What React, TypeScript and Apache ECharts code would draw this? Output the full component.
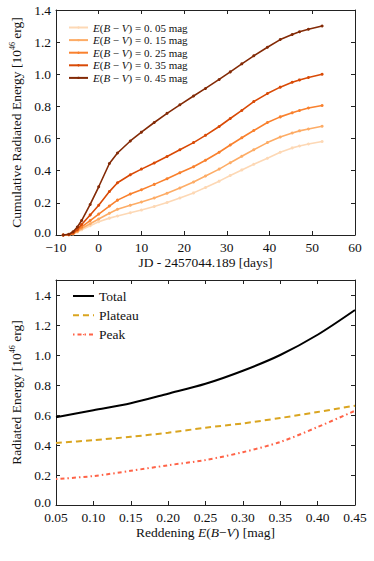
import React, { useEffect, useRef } from "react";
import * as echarts from "echarts";

// ---- Top panel data: cumulative radiated energy vs JD ----
const days = [-8.3, -7, -6, -5, -4, -2, 0, 2.5, 4.4, 7.4, 10, 13, 16, 19, 22.2, 25, 28.2, 30.8, 33.5, 36.3, 39.5, 42.5, 45.3, 47, 49.1, 52.3];
const reddenings = ["0.05", "0.15", "0.25", "0.35", "0.45"];
const cum005 = [0, 0.001, 0.006, 0.018, 0.032, 0.058, 0.082, 0.105, 0.118, 0.138, 0.155, 0.177, 0.202, 0.23, 0.262, 0.295, 0.335, 0.37, 0.405, 0.44, 0.478, 0.515, 0.542, 0.554, 0.566, 0.582];
const cum015 = [0, 0.002, 0.008, 0.022, 0.04, 0.07, 0.1, 0.135, 0.16, 0.185, 0.205, 0.23, 0.26, 0.292, 0.33, 0.367, 0.41, 0.45, 0.49, 0.53, 0.575, 0.61, 0.635, 0.648, 0.66, 0.677];
const cum025 = [0, 0.002, 0.01, 0.028, 0.05, 0.09, 0.13, 0.18, 0.217, 0.255, 0.282, 0.315, 0.35, 0.387, 0.425, 0.465, 0.515, 0.56, 0.605, 0.65, 0.7, 0.735, 0.76, 0.775, 0.79, 0.806];
const cum035 = [0, 0.003, 0.012, 0.035, 0.065, 0.125, 0.185, 0.27, 0.325, 0.375, 0.41, 0.448, 0.488, 0.53, 0.575, 0.62, 0.675, 0.725, 0.775, 0.83, 0.88, 0.92, 0.95, 0.965, 0.98, 1.0];
const cum045 = [0, 0.005, 0.02, 0.05, 0.09, 0.19, 0.3, 0.445, 0.51, 0.585, 0.64, 0.7, 0.757, 0.81, 0.865, 0.912, 0.968, 1.015, 1.065, 1.115, 1.168, 1.216, 1.248, 1.265, 1.28, 1.3];
const cumSeries = [cum005, cum015, cum025, cum035, cum045];
const cumColors = ["#fdd8b5", "#fdac66", "#f9812e", "#d94a06", "#832a06"];

// ---- Bottom panel data: radiated energy vs reddening ----
const ebv = [0.05, 0.1, 0.15, 0.2, 0.25, 0.3, 0.35, 0.4, 0.45];
const total = [0.585, 0.632, 0.678, 0.742, 0.808, 0.895, 1.0, 1.135, 1.3];
const plateau = [0.413, 0.432, 0.455, 0.482, 0.515, 0.544, 0.58, 0.62, 0.662];
const peak = [0.173, 0.193, 0.228, 0.265, 0.3, 0.352, 0.42, 0.52, 0.628];

const topXTicks = { min: -10, max: 60, interval: 10 };
const topYTicks = { min: 0, max: 1.4, interval: 0.2 };
const botXTicks = { min: 0.05, max: 0.45, interval: 0.05 };
const botYTicks = { min: 0, max: 1.5, interval: 0.2 };

const FONT = "Liberation Serif";
const AX = "#222";

const labelRich = {
  o: { fontFamily: FONT, fontSize: 13.5, color: "#111", padding: [0, 0, 6, 0] },
};

function mainAxis(grid: number, pos: string, ticks: any, fmt: (v: number) => string, margin: number, extra: any = {}) {
  return {
    type: "value",
    gridIndex: grid,
    position: pos,
    ...ticks,
    splitLine: { show: false },
    axisLine: { show: true, onZero: false, lineStyle: { color: AX, width: 1 } },
    axisTick: { show: true, inside: true, length: 4, lineStyle: { color: AX } },
    axisLabel: { show: true, formatter: fmt, fontFamily: FONT, fontSize: 13.5, color: "#111", margin, rich: labelRich },
    ...extra,
  };
}
function mirrorAxis(grid: number, pos: string, ticks: any) {
  return {
    type: "value",
    gridIndex: grid,
    position: pos,
    ...ticks,
    splitLine: { show: false },
    axisLine: { show: true, onZero: false, lineStyle: { color: AX, width: 1 } },
    axisTick: { show: true, inside: true, length: 4, lineStyle: { color: AX } },
    axisLabel: { show: false },
  };
}

const minus = (s: string) => s.replace("-", "\u2212");
const yFmt = (top: number) => (v: number) =>
  v > top + 0.05 ? "" : v === 0 ? "{o|0.0}" : v.toFixed(1);

export default function App() {
  const ref = useRef<HTMLDivElement>(null);
  useEffect(() => {
    if (!ref.current) return;
    const chart = echarts.init(ref.current, null, { renderer: "svg" });
    const nameRich = {
      a: { fontFamily: FONT, fontSize: 13.5, color: "#111" },
      s: { fontFamily: FONT, fontSize: 8, color: "#111", verticalAlign: "top", lineHeight: 16 },
      i: { fontFamily: FONT, fontSize: 13.5, fontStyle: "italic", color: "#111" },
    };
    const topSeries = reddenings.map((r, k) => ({
      name: r,
      type: "line",
      xAxisIndex: 0,
      yAxisIndex: 0,
      data: days.map((d, j) => [d, cumSeries[k][j]]),
      symbol: "circle",
      symbolSize: 3,
      showSymbol: true,
      lineStyle: { color: cumColors[k], width: 1.6 },
      itemStyle: { color: cumColors[k] },
      z: 2 + k,
    }));
    const botSeries = [
      { name: "Total", data: total, color: "#000", type: "solid", width: 2 },
      { name: "Plateau", data: plateau, color: "#daa520", type: [6, 4], width: 2 },
      { name: "Peak", data: peak, color: "#ff6347", type: [1.5, 3, 4, 3], width: 2 },
    ].map((s) => ({
      name: s.name,
      type: "line",
      xAxisIndex: 2,
      yAxisIndex: 2,
      data: ebv.map((x, j) => [x, s.data[j]]),
      showSymbol: false,
      symbol: "none",
      smooth: 0.3,
      lineStyle: { color: s.color, width: s.width, type: s.type },
      itemStyle: { color: s.color },
    }));
    chart.setOption({
      animation: false,
      backgroundColor: "#fff",
      grid: [
        { left: 56, top: 10, width: 299, height: 225 },
        { left: 56, top: 280, width: 299, height: 225 },
      ],
      xAxis: [
        mainAxis(0, "bottom", topXTicks, (v: number) => minus(String(v)), 5.5, {
          name: "JD - 2457044.189 [days]",
          nameLocation: "middle",
          nameGap: 19,
          nameTextStyle: { fontFamily: FONT, fontSize: 13.5, color: "#111" },
        }),
        mirrorAxis(0, "top", topXTicks),
        mainAxis(1, "bottom", botXTicks, (v: number) => v.toFixed(2), 5.5, {
          name: "{a|Reddening }{i|E}{a|(}{i|B}{a|\u2212}{i|V}{a|) [mag]}",
          nameLocation: "middle",
          nameGap: 19,
          nameTextStyle: { rich: nameRich },
        }),
        mirrorAxis(1, "top", botXTicks),
      ],
      yAxis: [
        mainAxis(0, "left", topYTicks, yFmt(1.4), 5, {
          name: "{a|Cumulative Radiated Energy [10}{s|46}{a| erg]}",
          nameLocation: "middle",
          nameGap: 28,
          nameTextStyle: { rich: nameRich },
        }),
        mirrorAxis(0, "right", topYTicks),
        mainAxis(1, "left", botYTicks, yFmt(1.4), 5, {
          name: "{a|Radiated Energy [10}{s|46}{a| erg]}",
          nameLocation: "middle",
          nameGap: 28,
          nameTextStyle: { rich: nameRich },
        }),
        mirrorAxis(1, "right", botYTicks),
      ],
      legend: [
        {
          data: reddenings,
          orient: "vertical",
          left: 63,
          top: 17,
          itemWidth: 19,
          itemHeight: 3,
          itemGap: 1.6,
          formatter: (n: string) =>
            `{i|E}{r|(}{i|B}{r| \u2212 }{i|V}{r|) = 0. ${n.slice(2)} mag}`,
          textStyle: {
            fontFamily: FONT,
            fontSize: 11,
            lineHeight: 11,
            color: "#111",
            rich: {
              i: { fontFamily: FONT, fontSize: 11, fontStyle: "italic", color: "#111", lineHeight: 11 },
              r: { fontFamily: FONT, fontSize: 11, color: "#111", lineHeight: 11 },
            },
          },
        },
        {
          data: ["Total", "Plateau", "Peak"],
          orient: "vertical",
          left: 67,
          top: 284,
          itemWidth: 21,
          itemHeight: 1.5,
          itemGap: 5.3,
          textStyle: { fontFamily: FONT, fontSize: 13.5, color: "#111", lineHeight: 14 },
        },
      ],
      series: [...topSeries, ...botSeries],
    });
    return () => chart.dispose();
  }, []);
  return (
    <div
      ref={ref}
      style={{ position: "absolute", left: 0, top: 0, width: 374, height: 561, background: "#fff" }}
    />
  );
}
